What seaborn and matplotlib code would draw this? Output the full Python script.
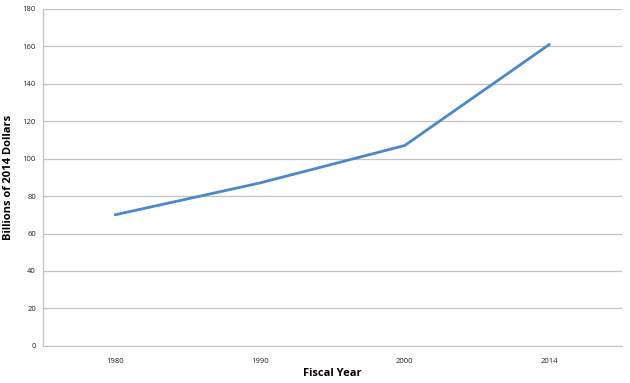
import pandas as pd
import matplotlib.pyplot as plt
import seaborn as sns

# Data
years = ['1980', '1990', '2000', '2014']
billions = [70, 87, 107, 161]

df = pd.DataFrame({'Fiscal Year': years, 'Billions': billions})

sns.set_style('white')
plt.rcParams['font.family'] = ['Open Sans', 'DejaVu Sans']

fig = plt.figure(figsize=(6.3, 3.83), dpi=100)
ax = fig.add_axes([0.068, 0.097, 0.919, 0.88])

grid_col = '#c3c3c3'
sns.lineplot(x='Fiscal Year', y='Billions', data=df, ax=ax,
             color='#4a88c9', linewidth=2.0, sort=False)

ax.set_xlim(-0.5, 3.5)
ax.set_ylim(0, 180)
ax.set_yticks(range(0, 181, 20))
ax.yaxis.grid(True, color=grid_col, linewidth=0.9)
ax.set_axisbelow(True)

# category labels between the tick marks, Excel style
ax.set_xticks(range(len(years)))
ax.set_xticklabels(years)
ax.set_xticks([i - 0.5 for i in range(len(years) + 1)], minor=True)
ax.tick_params(axis='x', which='major', length=0, labelsize=5.5, pad=9,
               labelcolor='#222222')
ax.tick_params(axis='x', which='minor', length=3, color=grid_col, width=0.9)
ax.tick_params(axis='y', length=3, color=grid_col, width=0.9, labelsize=5.5,
               pad=2, labelcolor='#222222')

for side in ['top', 'right']:
    ax.spines[side].set_visible(False)
for side in ['left', 'bottom']:
    ax.spines[side].set_color(grid_col)
    ax.spines[side].set_linewidth(0.9)

ax.set_xlabel('Fiscal Year', fontsize=8, fontweight='bold', color='black')
ax.xaxis.set_label_coords(0.5, -0.065)
ax.set_ylabel('Billions of 2014 Dollars', fontsize=8, fontweight='bold', color='black')
ax.yaxis.set_label_coords(-0.05, 0.5)

plt.savefig('out.png', dpi=100)
